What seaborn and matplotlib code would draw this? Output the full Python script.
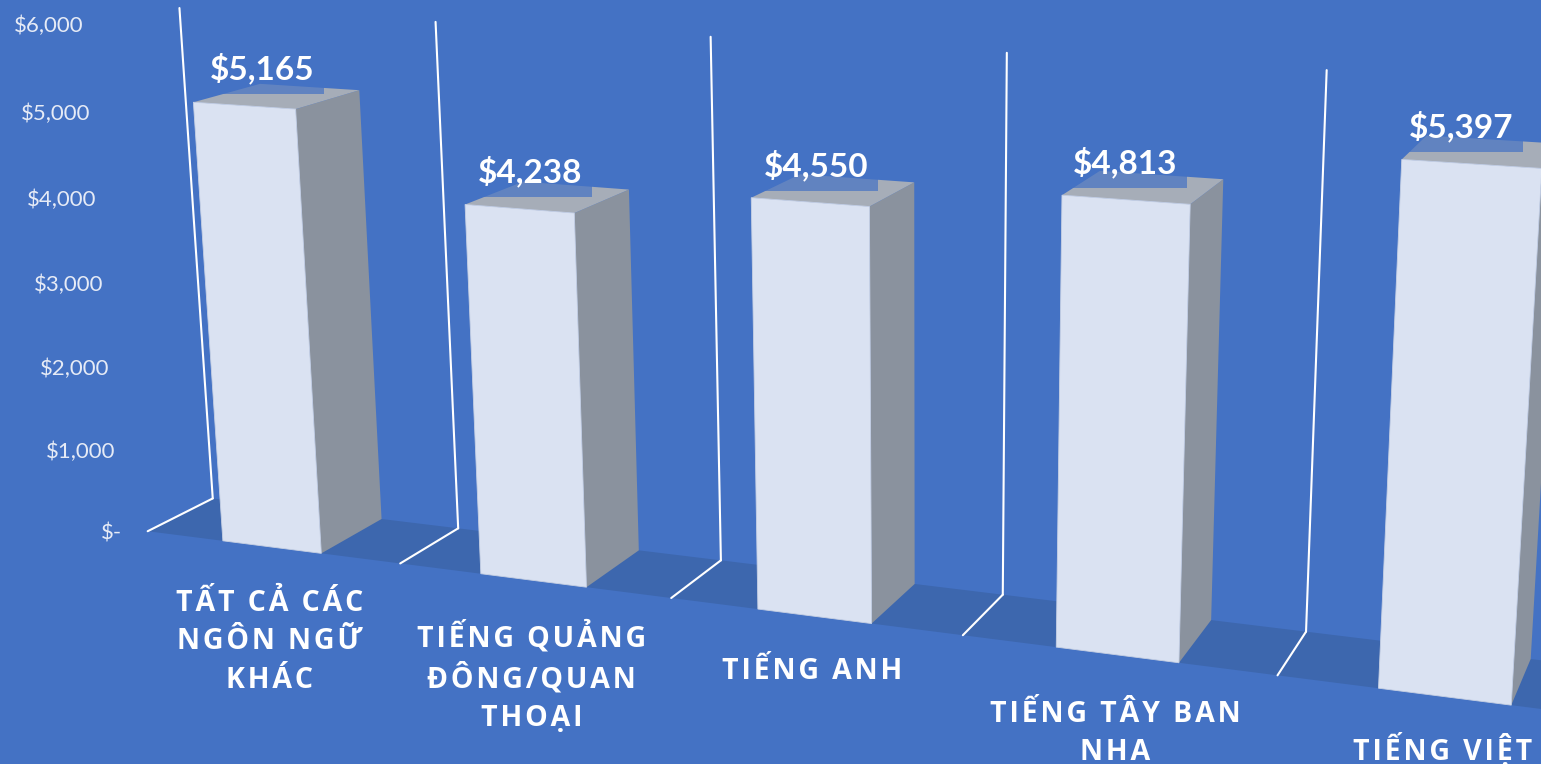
import numpy as np
import matplotlib
matplotlib.use('Agg')
import matplotlib.pyplot as plt
import matplotlib.transforms as mtransforms
import seaborn as sns

# chart data
languages = ['TẤT CẢ CÁC\nNGÔN NGỮ\nKHÁC', 'TIẾNG QUẢNG\nĐÔNG/QUAN\nTHOẠI', 'TIẾNG ANH',
             'TIẾNG TÂY BAN\nNHA', 'TIẾNG VIỆT']
values = [5165, 4238, 4550, 4813, 5397]
value_labels = ['$5,165', '$4,238', '$4,550', '$4,813', '$5,397']
axis_ticks = [0, 1000, 2000, 3000, 4000, 5000, 6000]
axis_labels = ['$-', '$1,000', '$2,000', '$3,000', '$4,000', '$5,000', '$6,000']

BAR_W = 0.39
BG = '#4472C4'
FLOOR = '#3D67AE'
FRONT = '#DAE2F2'
SIDE = '#8A929E'
TOP = '#A6ADB8'

# camera of the 3d view: (category, depth, value/1000) -> picture pixels
CAMERA = np.array([
    [243.0183, 74.2015, -7.2653, 271.7523],
    [13.2131, -14.6184, -86.2903, 547.0517],
    [-0.034709, 0.037627, -0.0078525, 1.0],
])


def project(x, y, z):
    q = CAMERA @ np.vstack([x, y, z, np.ones_like(x)])
    return q[0] / q[2], q[1] / q[2]


class Perspective(mtransforms.Transform):
    input_dims = 2
    output_dims = 2

    def __init__(self, plane):
        super().__init__()
        self.plane = plane

    def transform_non_affine(self, values):
        values = np.asarray(values, float)
        x, y, z = self.plane(values[:, 0], values[:, 1])
        u, v = project(x, y, z / 1000)
        return np.column_stack([u, v])


to_display = mtransforms.Affine2D().scale(1, -1).translate(0, 764)


def front_plane(depth):
    return Perspective(lambda a, b: (a, np.full_like(a, depth), b)) + to_display


sns.set_theme(style='white')
plt.rcParams['font.family'] = ['Lato', 'Noto Sans', 'DejaVu Sans']
fig = plt.figure(figsize=(15.41, 7.64), dpi=100, facecolor=BG)
ax = fig.add_axes([0, 0, 1, 1])
ax.set_axis_off()

sns.barplot(x=list(range(5)), y=values, ax=ax, width=BAR_W, color=FRONT, saturation=1,
            edgecolor='#C6D0E4', linewidth=0.6, zorder=5)
for p in ax.patches:
    p.set_transform(front_plane(0))

w = BAR_W / 2
floor = Perspective(lambda a, b: (a, b, np.zeros_like(a))) + to_display
ax.fill([-0.5, 4.6, 4.6, -0.5], [0, 0, 1, 1], color=FLOOR, transform=floor, zorder=1, lw=0)

for i, val in enumerate(values):
    x0, x1 = i - w, i + w
    side = Perspective(lambda a, b, x=x1: (np.full_like(a, x), a, b)) + to_display
    ax.fill([0, 1, 1, 0], [0, 0, val, val], color=SIDE, transform=side, zorder=4, lw=0)
    top = Perspective(lambda a, b, v=val: (a, b, np.full_like(a, v))) + to_display
    ax.fill([x0, x1, x1, x0], [0, 0, 1, 1], color=TOP, transform=top, zorder=4, lw=0)

wall = front_plane(1)
for i in range(5):
    ax.plot([i - .5, i - .5], [0, 6000], color='white', lw=1.5, transform=wall, zorder=2)
    ax.plot([i - .5, i - .5], [0, 1], color='white', lw=1.5, transform=floor, zorder=2)

for t, lab in zip(axis_ticks, axis_labels):
    ax.annotate(lab, xy=(-0.5, t), xycoords=front_plane(0), xytext=(-26, -2), textcoords='offset pixels',
                ha='right', va='center', color='#E6EBF6', fontsize=16)

# labels sit a bit off the bar centre, more so towards the edges
offsets = [18, 11, 6, 0, -10]
for i, (val, lab) in enumerate(zip(values, value_labels)):
    ax.annotate(lab, xy=(i, val), xycoords=front_plane(0), xytext=(offsets[i], 37), textcoords='offset pixels',
                ha='center', va='center', color='white', fontsize=24, fontweight='bold', zorder=7,
                bbox=dict(facecolor=BG, edgecolor='none', alpha=0.7, pad=7))

label_drop = [-42, -40, -41, -45, -36]
for i, lab in enumerate(languages):
    spaced = '\n'.join('\u200a'.join(line) for line in lab.split('\n'))
    ax.annotate(spaced, xy=(i, 0), xycoords=front_plane(0), xytext=(-2, label_drop[i]), textcoords='offset pixels',
                ha='center', va='top', color='white', fontsize=20.5, fontweight='bold', linespacing=1.42,
                family=['Open Sans', 'DejaVu Sans'], annotation_clip=False, zorder=7)

fig.savefig('out.png', dpi=100, facecolor=BG)
